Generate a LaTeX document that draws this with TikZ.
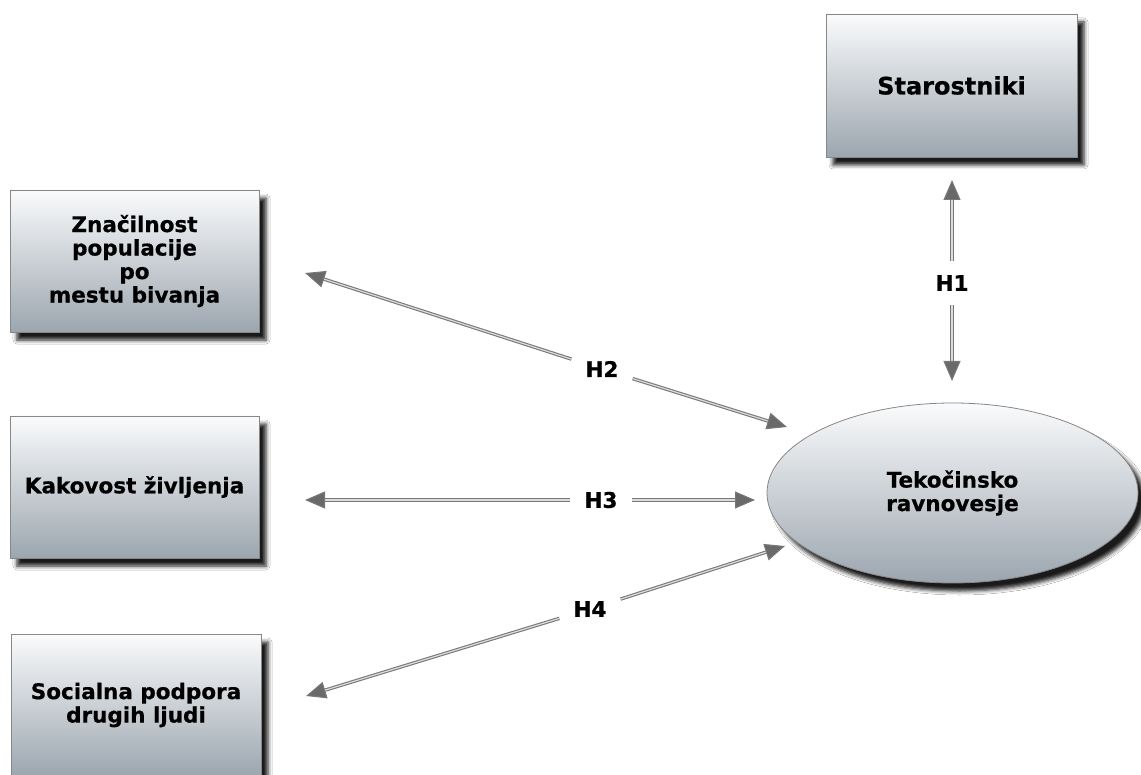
\documentclass[tikz,border=0pt]{standalone}
\usepackage{fontspec}
\setmainfont{DejaVu Sans}[BoldFeatures={FakeBold=0.6}]
\usetikzlibrary{arrows.meta,shadows.blur,shapes.geometric}
\definecolor{boxtop}{RGB}{250,251,252}
\definecolor{boxbot}{RGB}{156,166,175}
\definecolor{edgegray}{RGB}{135,135,135}
\definecolor{linegray}{RGB}{120,120,120}
\definecolor{linecore}{RGB}{220,220,220}
\definecolor{tipgray}{RGB}{105,105,105}
\begin{document}
\begin{tikzpicture}[x=1pt,y=-1pt,
  box/.style={rectangle, draw=edgegray, line width=0.8pt, top color=boxtop, bottom color=boxbot,
    minimum width=249pt, minimum height=142pt, inner sep=0pt, align=center,
    font=\bfseries\fontsize{21.5}{23.5}\selectfont,
    blur shadow={shadow xshift=7pt, shadow yshift=-8pt, shadow blur radius=4pt, shadow opacity=90}},
  oval/.style={ellipse, draw=edgegray, line width=0.8pt, top color=boxtop, bottom color=boxbot,
    minimum width=371pt, minimum height=180pt, inner sep=0pt, align=center,
    font=\bfseries\fontsize{21.5}{23.5}\selectfont,
    blur shadow={shadow xshift=7pt, shadow yshift=-8pt, shadow blur radius=4pt, shadow opacity=90}},
  hlabel/.style={font=\bfseries\fontsize{21.5}{24}\selectfont, inner xsep=14pt, inner ysep=14pt},
  conn/.style={draw=linegray, line width=1.1pt, double=linecore, double distance=1.2pt,
    -{Triangle[length=20pt,width=17pt,fill=tipgray]}}
]
\path[use as bounding box, fill=white] (0,0) rectangle (1141,775);

% nodes
\node[box, minimum width=251pt, minimum height=143pt, font=\bfseries\fontsize{24}{26}\selectfont] (star) at (951.5,85.5) {Starostniki};
\node[box] (znac) at (134.5,261) {Značilnost\\populacije\\po\\mestu bivanja};
\node[box] (kak) at (134.5,487) {Kakovost življenja};
\node[box, minimum width=250pt] (soc) at (136,705) {Socialna podpora\\drugih ljudi};
\node[oval] (tek) at (952.5,493) {Tekočinsko\\ravnovesje};

% arrow tips (free ends)
\coordinate (t1a) at (952,180);
\coordinate (t1b) at (952,381);
\coordinate (t2a) at (305,273);
\coordinate (t2b) at (787,427);
\coordinate (t3a) at (305,500);
\coordinate (t3b) at (755,500);
\coordinate (t4a) at (306,696);
\coordinate (t4b) at (785,546);

% labels
\node[hlabel] (h1) at (952,283) {H1};
\node[hlabel] (h2) at (602,369) {H2};
\node[hlabel] (h3) at (601,500) {H3};
\node[hlabel] (h4) at (590,609) {H4};

% connectors
\draw[conn] (h1) -- (t1a);
\draw[conn] (h1) -- (t1b);
\draw[conn] (h2) -- (t2a);
\draw[conn] (h2) -- (t2b);
\draw[conn] (h3) -- (t3a);
\draw[conn] (h3) -- (t3b);
\draw[conn] (h4) -- (t4a);
\draw[conn] (h4) -- (t4b);
\end{tikzpicture}
\end{document}
